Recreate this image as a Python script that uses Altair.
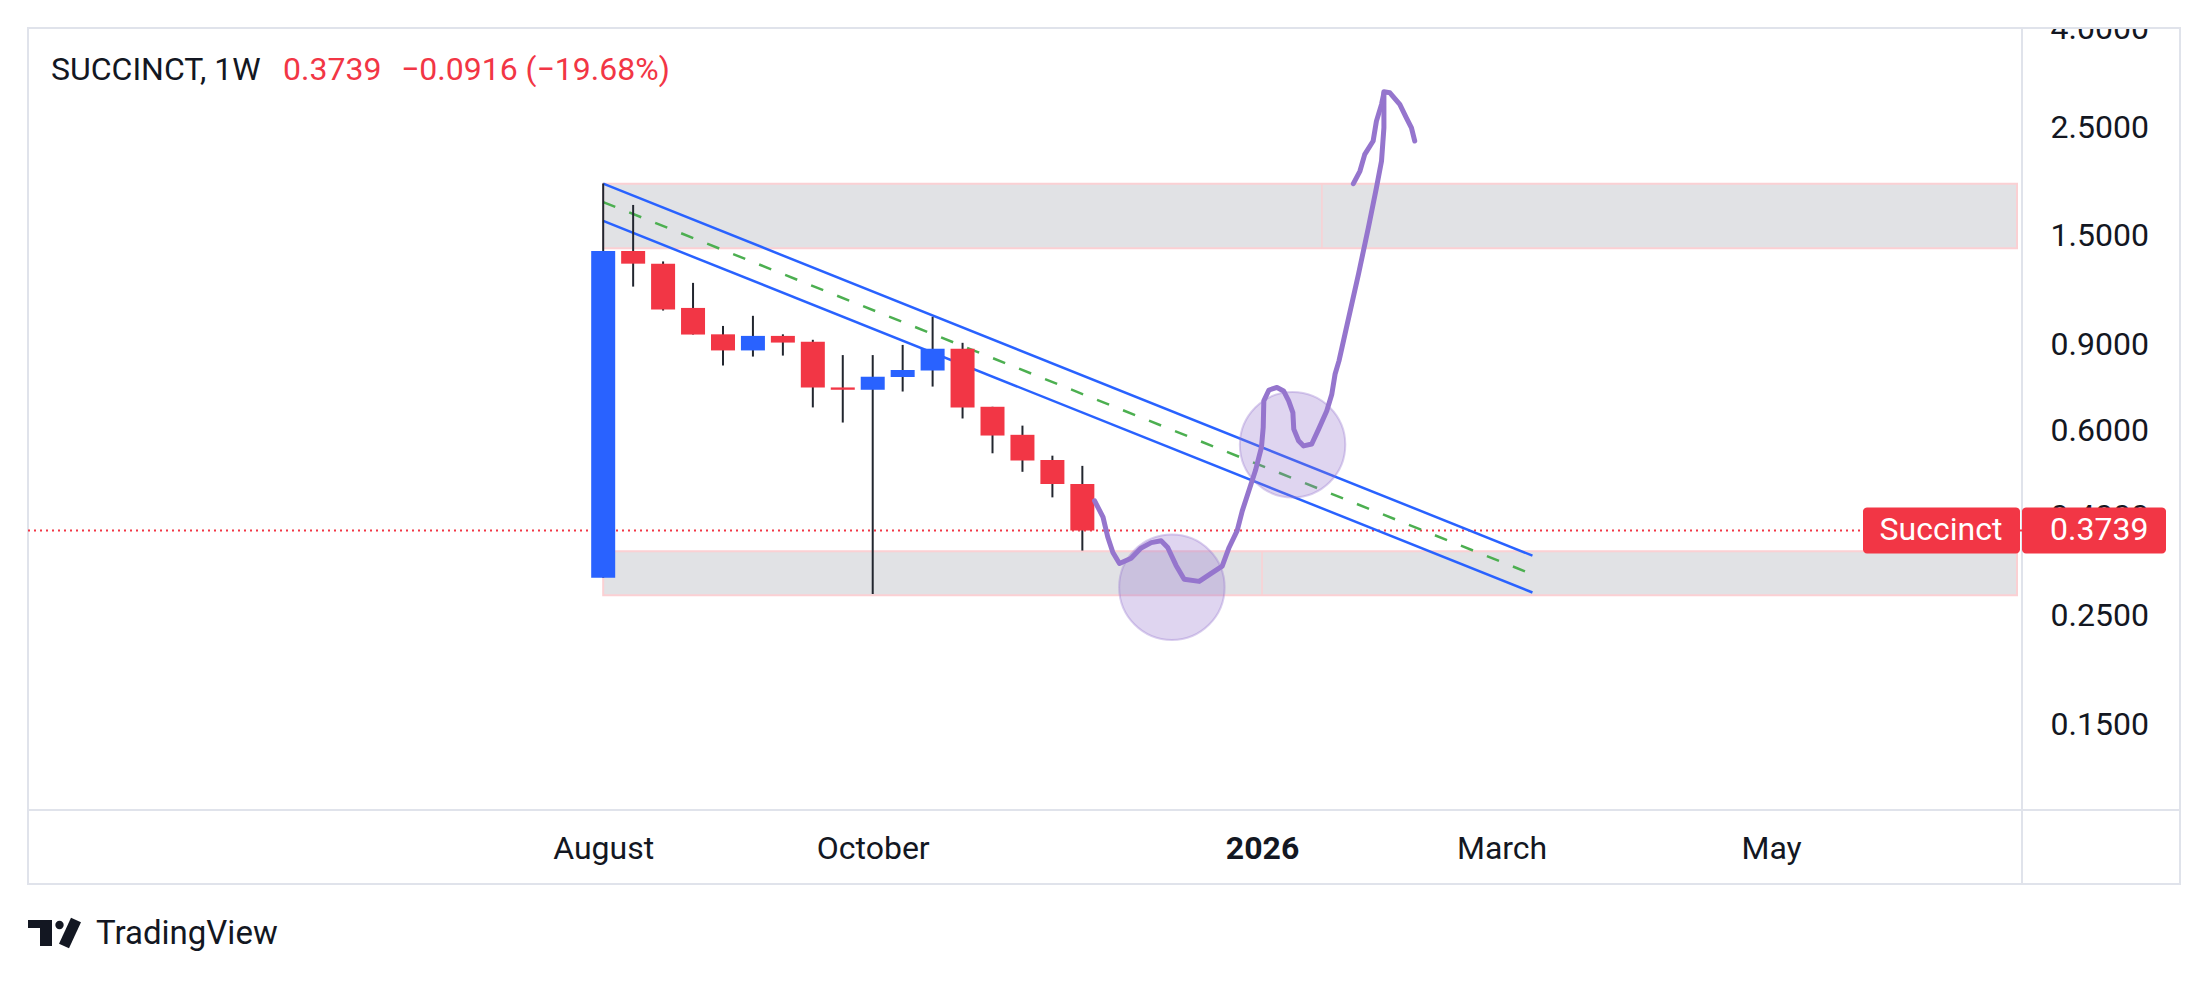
import altair as alt
import pandas as pd

# ---------------- data ----------------
candle_dates = ["2025-08-04", "2025-08-11", "2025-08-18", "2025-08-25", "2025-09-01",
                "2025-09-08", "2025-09-15", "2025-09-22", "2025-09-29", "2025-10-06",
                "2025-10-13", "2025-10-20", "2025-10-27", "2025-11-03", "2025-11-10",
                "2025-11-17", "2025-11-24"]
opens = [0.299, 1.397, 1.316, 1.068, 0.943, 0.874, 0.936, 0.911, 0.734, 0.726,
         0.771, 0.795, 0.881, 0.670, 0.587, 0.521, 0.4655]
highs = [1.920, 1.736, 1.330, 1.202, 0.981, 1.029, 0.943, 0.919, 0.855, 0.855,
         0.897, 1.024, 0.906, 0.670, 0.613, 0.532, 0.507]
lows = [0.299, 1.181, 1.055, 0.942, 0.814, 0.849, 0.853, 0.668, 0.622, 0.277,
        0.720, 0.737, 0.634, 0.538, 0.493, 0.437, 0.340]
closes = [1.397, 1.316, 1.060, 0.942, 0.874, 0.936, 0.907, 0.734, 0.726, 0.772,
          0.797, 0.881, 0.668, 0.585, 0.520, 0.4655, 0.3739]

zone_start = "2025-08-04"
zone_lows = [1.415, 0.2753]
zone_highs = [1.919, 0.3388]
zone_marks = ["2026-01-19", "2026-01-05"]

# channel (weeks after 2025-08-04)
channel_weeks = [0.0, 31.03]
channel_upper = [1.92, 0.332]
channel_lower = [1.61, 0.279]
channel_mid = [1.76, 0.304]

# hand-drawn projection path (weeks after 2025-08-04, price)
path_weeks = [16.41, 16.69, 16.85, 17.02, 17.24, 17.63, 17.96, 18.30, 18.63, 18.85,
              19.13, 19.40, 19.90, 20.29, 20.67, 20.90, 21.17, 21.34, 21.56, 21.78,
              21.98, 22.04, 22.06, 22.23, 22.50, 22.72, 22.89, 23.03, 23.06, 23.22,
              23.39, 23.66, 23.89, 24.16, 24.33, 24.44, 24.57, 24.77, 25.22, 25.55,
              25.82, 25.99, 26.07, 26.07, 26.27, 26.60, 26.82, 26.99, 27.10]
path_prices = [0.430, 0.398, 0.362, 0.337, 0.320, 0.328, 0.344, 0.353, 0.356, 0.345,
               0.317, 0.297, 0.294, 0.305, 0.316, 0.345, 0.3735, 0.410, 0.451, 0.496,
               0.553, 0.608, 0.689, 0.725, 0.734, 0.722, 0.689, 0.652, 0.603, 0.571,
               0.557, 0.562, 0.603, 0.657, 0.711, 0.782, 0.832, 0.944, 1.252, 1.559,
               1.883, 2.136, 2.498, 2.960, 2.947, 2.790, 2.619, 2.498, 2.347]
head_weeks = [26.07, 25.99, 25.82, 25.71, 25.43, 25.27, 25.05]
head_prices = [2.942, 2.790, 2.578, 2.347, 2.204, 2.037, 1.919]

circle_weeks = [18.99, 23.02]
circle_prices = [0.286, 0.560]

x_tick_dates = ["2025-08-04", "2025-10-06", "2026-01-05", "2026-03-02", "2026-05-04"]
y_ticks = [0.15, 0.25, 0.4, 0.6, 0.9, 1.5, 2.5, 4.0]
x_domain_weeks = [-19.04, 47.21]
y_domain = [0.1, 4.0]

# ---------------- helpers ----------------
BASE_MS = pd.Timestamp("2025-08-04", tz="UTC").value // 10**6
DAY_MS = 86400000


def date_ms(s):
    return pd.Timestamp(s, tz="UTC").value // 10**6


def week_ms(w):
    return BASE_MS + w * 7 * DAY_MS


x_lo, x_hi = week_ms(x_domain_weeks[0]), week_ms(x_domain_weeks[1])

RED = "#f23645"
BLUE = "#2962ff"
INK = "#131722"
PURPLE = "#9575cd"
FRAME = "#e0e3eb"
FONT = "Roboto"

xscale = alt.Scale(type="utc", domain=[x_lo, x_hi], nice=False)
yscale = alt.Scale(type="log", domain=y_domain, nice=False, zero=False)

xaxis = alt.Axis(
    values=[date_ms(d) for d in x_tick_dates],
    labelExpr="utcmonth(datum.value)==0 ? utcFormat(datum.value,'%Y') : utcFormat(datum.value,'%B')",
    labelFontWeight={"condition": {"test": "utcmonth(datum.value)==0", "value": "bold"}, "value": "normal"},
    labelFontSize=32, labelFont=FONT, labelColor=INK, labelPadding=38,
    labelBaseline="middle", labelFlush=False, labelOverlap=False,
    domain=False, ticks=False, tickSize=0, grid=False, title=None,
)
yaxis = alt.Axis(
    orient="right", values=y_ticks, format=".4f",
    labelFontSize=32, labelFont=FONT, labelColor=INK, labelPadding=28,
    labelAlign="left", labelBaseline="middle", labelFlush=False, labelOverlap=False,
    domain=False, ticks=False, tickSize=0, grid=False, title=None,
)


def X(f):
    return alt.X(f, type="temporal", scale=xscale, axis=xaxis)


def Y(f):
    return alt.Y(f, type="quantitative", scale=yscale, axis=yaxis)


one = pd.DataFrame({"a": [0]})

# ---------------- tables ----------------
candles = pd.DataFrame({
    "t": [date_ms(d) for d in candle_dates],
    "o": opens, "h": highs, "l": lows, "c": closes,
})
candles["dir"] = ["up" if c >= o else "down" for o, c in zip(opens, closes)]

zones = pd.DataFrame({
    "t": [date_ms(zone_start)] * len(zone_lows),
    "end": [x_hi] * len(zone_lows),
    "lo": zone_lows, "hi": zone_highs,
    "m": [date_ms(d) for d in zone_marks],
})

chan_rows = []
for name, vals in [("upper", channel_upper), ("lower", channel_lower)]:
    for w, p in zip(channel_weeks, vals):
        chan_rows.append({"line": name, "t": week_ms(w), "p": p})
chan = pd.DataFrame(chan_rows)
mid = pd.DataFrame({"t": [week_ms(w) for w in channel_weeks], "p": channel_mid})

path_rows = []
for i, (w, p) in enumerate(zip(path_weeks, path_prices)):
    path_rows.append({"seg": "main", "i": i, "t": week_ms(w), "p": p})
for i, (w, p) in enumerate(zip(head_weeks, head_prices)):
    path_rows.append({"seg": "head", "i": i, "t": week_ms(w), "p": p})
path = pd.DataFrame(path_rows)

circles = pd.DataFrame({"t": [week_ms(w) for w in circle_weeks], "p": circle_prices})
last = pd.DataFrame({"p": [closes[-1]]})

# ---------------- layers ----------------
frame = alt.Chart(one).mark_rect(fill="white", fillOpacity=0, stroke=FRAME, strokeWidth=2).encode(
    x=alt.value(0), x2=alt.value(2152), y=alt.value(0), y2=alt.value(856))
sep_v = alt.Chart(one).mark_rule(color=FRAME, strokeWidth=2).encode(
    x=alt.value(1994), y=alt.value(0), y2=alt.value(856))
sep_h = alt.Chart(one).mark_rule(color=FRAME, strokeWidth=2).encode(
    x=alt.value(0), x2=alt.value(2152), y=alt.value(782))
# the price scale is cut at the top edge of the panel, as in the reference
top_cut = alt.Chart(one).mark_rect(fill="white").encode(
    x=alt.value(1996), x2=alt.value(2175), y=alt.value(-22), y2=alt.value(-1))

zone_layer = alt.Chart(zones).mark_rect(fill="#e1e2e5", stroke="#fbd0d3", strokeWidth=2).encode(
    x=X("t"), x2=alt.X2("end"), y=Y("lo"), y2=alt.Y2("hi"))
zone_mid = alt.Chart(zones).mark_rule(color="#fbd0d3", strokeWidth=1.5).encode(
    x=X("m"), y=Y("lo"), y2=alt.Y2("hi"))

price_line = alt.Chart(last).mark_rule(color=RED, strokeDash=[2, 4], strokeWidth=2).encode(y=Y("p"))

chan_layer = alt.Chart(chan).mark_line(color=BLUE, strokeWidth=2.5).encode(
    x=X("t"), y=Y("p"), detail="line:N")
mid_layer = alt.Chart(mid).mark_line(color="#4caf50", strokeWidth=2.5, strokeDash=[13, 15]).encode(
    x=X("t"), y=Y("p"))

candle_color = alt.Color("dir:N", scale=alt.Scale(domain=["up", "down"], range=[BLUE, RED]), legend=None)
wicks = alt.Chart(candles).mark_rule(color="#22262f", strokeWidth=2).encode(
    x=X("t"), y=Y("l"), y2=alt.Y2("h"))
bodies = alt.Chart(candles).mark_bar(size=24).encode(
    x=X("t"), y=Y("o"), y2=alt.Y2("c"), color=candle_color)

circle_layer = alt.Chart(circles).mark_circle(
    size=11120, fill=PURPLE, fillOpacity=0.3, stroke=PURPLE, strokeOpacity=0.35, strokeWidth=2
).encode(x=X("t"), y=Y("p"))

path_layer = alt.Chart(path).mark_line(
    color=PURPLE, strokeWidth=5, strokeCap="round", strokeJoin="round"
).encode(x=X("t"), y=Y("p"), detail="seg:N", order="i:Q")

box_name = alt.Chart(last).mark_rect(color=RED, cornerRadius=4, yOffset=-23, y2Offset=23).encode(
    x=alt.value(1835), x2=alt.value(1992), y=Y("p"), y2=alt.Y2("p"))
box_price = alt.Chart(last).mark_rect(color=RED, cornerRadius=4, yOffset=-23, y2Offset=23).encode(
    x=alt.value(1994), x2=alt.value(2138), y=Y("p"), y2=alt.Y2("p"))
box_name_txt = alt.Chart(last).mark_text(
    text="Succinct", color="white", fontSize=32, font=FONT, align="center", baseline="middle"
).encode(x=alt.value(1913), y=Y("p"))
box_price_txt = alt.Chart(last).mark_text(
    color="white", fontSize=32, font=FONT, align="left", baseline="middle"
).encode(x=alt.value(2022), y=Y("p"), text=alt.Text("p:Q", format=".4f"))


def txt(s, x, y, size=32, color=INK, weight="normal", align="left", font=FONT):
    return alt.Chart(one).mark_text(
        text=s, align=align, baseline="middle", fontSize=size, color=color,
        fontWeight=weight, font=font
    ).encode(x=alt.value(x), y=alt.value(y))


title1 = txt("SUCCINCT, 1W", 23, 42)
title2 = txt("0.3739", 255, 42, color=RED)
title3 = txt("\u22120.0916 (\u221219.68%)", 373, 42, color=RED)
brand = txt("TradingView", 68, 906, size=33)

# TradingView logo built from simple shapes
logo_bar = alt.Chart(one).mark_rect(color=INK).encode(
    x=alt.value(0), x2=alt.value(24), y=alt.value(892), y2=alt.value(900))
logo_stem = alt.Chart(one).mark_rect(color=INK).encode(
    x=alt.value(12), x2=alt.value(24), y=alt.value(892), y2=alt.value(918))
logo_dot = alt.Chart(one).mark_circle(color=INK, opacity=1, size=70).encode(
    x=alt.value(31.5), y=alt.value(897))
logo_slash = alt.Chart(one).mark_rule(color=INK, strokeWidth=11, strokeCap="butt").encode(
    x=alt.value(36), y=alt.value(918), x2=alt.value(48), y2=alt.value(892))

chart = alt.layer(
    frame, sep_v, sep_h, top_cut, zone_layer, zone_mid, price_line, chan_layer, mid_layer,
    wicks, bodies, circle_layer, path_layer,
    box_name, box_price, box_name_txt, box_price_txt,
    title1, title2, title3, brand, logo_bar, logo_stem, logo_dot, logo_slash,
).properties(
    width=1994, height=782,
    autosize=alt.AutoSizeParams(type="none"),
    padding={"left": 20, "top": 20, "right": 170, "bottom": 150},
    background="white",
).configure_view(stroke="transparent").configure(font=FONT)

chart.save("out.html", embed_options={"renderer": "svg", "actions": False})
